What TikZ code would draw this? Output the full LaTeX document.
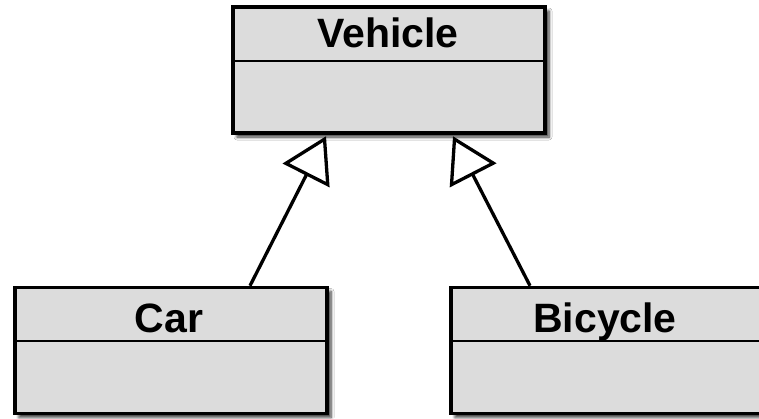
\documentclass[tikz,border=0pt]{standalone}
\usepackage{fontspec}
\setmainfont{Liberation Sans}
\usetikzlibrary{arrows.meta,shadows,shadows.blur}
\tikzset{
  classbox/.style={draw=black, line width=3.5pt, fill=boxgray, minimum width=312pt, minimum height=126pt, inner sep=0pt,
    blur shadow={shadow xshift=4pt, shadow yshift=-4pt, shadow blur steps=6, shadow blur radius=3pt, shadow blur extra rounding=0pt, shadow opacity=80}},
  classname/.style={font=\fontsize{41}{48}\selectfont\bfseries, anchor=base, inner sep=0pt},
  divider/.style={line width=2.8pt},
  inherit/.style={line width=3.3pt, -{Triangle[open, length=44pt, width=52pt, line width=3.3pt, fill=white]}},
}
\definecolor{boxgray}{HTML}{DCDCDC}
\begin{document}
\begin{tikzpicture}[x=1pt, y=-1pt]
\useasboundingbox (0,0) rectangle (759,418);
\fill[white] (0,0) rectangle (759,418);
% Vehicle
\node[classbox] (vehicle) at (389,70) {};
\node[classname] (vehiclename) at (388,47) {Vehicle};
\draw[divider] ([yshift=9pt]vehicle.west) -- ([yshift=9pt]vehicle.east);
% Car
\node[classbox] (car) at (171,350.5) {};
\node[classname] (carname) at (169,332) {Car};
\draw[divider] ([yshift=9.5pt]car.west) -- ([yshift=9.5pt]car.east);
% Bicycle
\node[classbox] (bicycle) at (607,350.5) {};
\node[classname] (bicyclename) at (605,332) {Bicycle};
\draw[divider] ([yshift=9.5pt]bicycle.west) -- ([yshift=9.5pt]bicycle.east);
% generalisation arrows
\draw[inherit] ([xshift=79pt]car.north) -- ([xshift=-63pt, yshift=-1.5pt]vehicle.south);
\draw[inherit] ([xshift=-77pt]bicycle.north) -- ([xshift=64pt, yshift=-1.5pt]vehicle.south);
\end{tikzpicture}
\end{document}
